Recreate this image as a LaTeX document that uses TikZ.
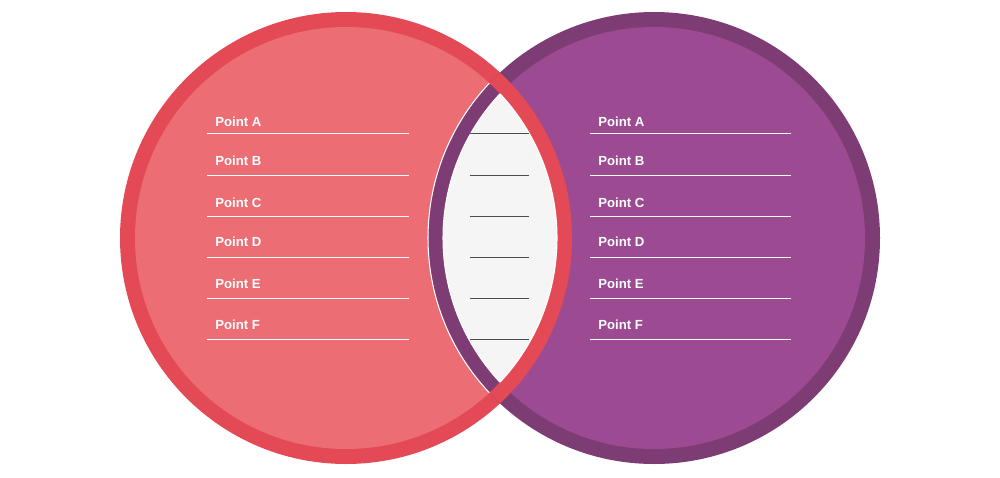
\documentclass[tikz,border=0pt]{standalone}
\usepackage{fontspec}
\setmainfont{Liberation Sans}
\definecolor{redring}{HTML}{E34A56}
\definecolor{pinkfill}{HTML}{EC6D74}
\definecolor{purring}{HTML}{7E3C75}
\definecolor{purfill}{HTML}{9C4A91}
\definecolor{lens}{HTML}{F5F5F5}
\begin{document}
\begin{tikzpicture}[x=0.02cm,y=-0.02cm,
  lbl/.style={anchor=west,text=white,font=\fontsize{7.5}{9}\selectfont\bfseries,inner sep=0pt},
  wl/.style={white,line width=0.5pt},
  gl/.style={black!70,line width=0.5pt}]
\useasboundingbox (0,0) rectangle (1000,477);
\fill[redring] (346,238) circle (226);
\fill[pinkfill] (346,238) circle (211);
\fill[purring] (654,238) circle (226);
\fill[purfill] (654,238) circle (211);
\begin{scope}
 \clip (654,238) circle (226);
 \fill[redring,even odd rule] (346,238) circle (226) (346,238) circle (211);
\end{scope}
\begin{scope}
 \clip (346,238) circle (211);
 \fill[lens] (654,238) circle (211);
 \draw[white,line width=0.6pt] (654,238) circle (211);
 \draw[white,line width=0.6pt] (654,238) circle (226);
\end{scope}
\begin{scope}
 \clip (654,238) circle (211);
 \draw[white,line width=0.6pt] (346,238) circle (211);
\end{scope}
\foreach \t/\y [count=\i] in {A/122,B/161,C/203,D/242,E/284,F/325}{
  \node[lbl] (l\i) at (215,\y) {Point \t};
  \node[lbl] (r\i) at (598,\y) {Point \t};
}
\foreach \y in {133,175,216,257,298,339}{
  \draw[wl] (207,\y) -- (409,\y);
  \draw[wl] (590,\y) -- (791,\y);
  \draw[gl] (470,\y) -- (529,\y);
}
\end{tikzpicture}
\end{document}
